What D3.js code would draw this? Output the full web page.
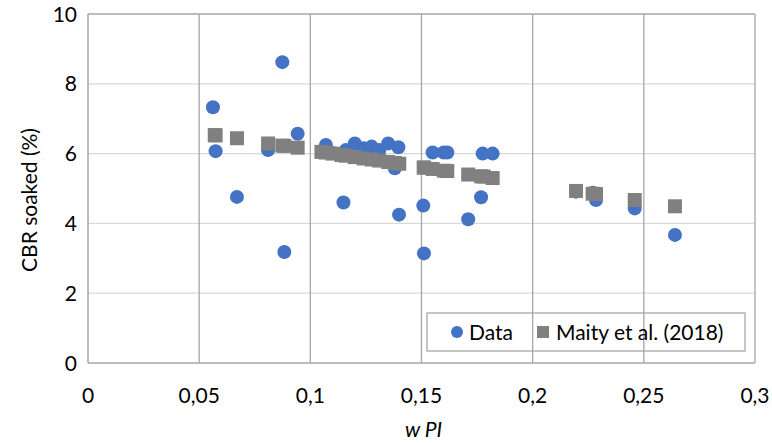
<!DOCTYPE html>
<html><head><meta charset="utf-8">
<script src="https://cdn.jsdelivr.net/npm/d3@7"></script>
<style>body{margin:0;background:#fff}svg{display:block;font-family:Lato,"Open Sans",sans-serif}</style>
</head><body><svg id="c" width="772" height="444"></svg>
<script>
const dataX = [0.0562,0.0574,0.067,0.081,0.0874,0.0883,0.0943,0.107,0.110,0.1149,0.116,0.120,0.124,0.1276,0.131,0.135,0.138,0.1396,0.1399,0.1508,0.1511,0.155,0.160,0.1616,0.171,0.1768,0.1775,0.182,0.2195,0.227,0.2285,0.2459,0.264];
const dataY = [7.33,6.07,4.76,6.10,8.62,3.18,6.57,6.25,6.02,4.60,6.10,6.29,6.15,6.20,6.10,6.29,5.58,6.18,4.25,4.51,3.14,6.03,6.03,6.03,4.12,4.75,6.00,6.00,4.91,4.88,4.67,4.43,3.67];
const maityX = [0.057,0.0574,0.067,0.081,0.0874,0.0883,0.0943,0.105,0.107,0.110,0.114,0.116,0.120,0.124,0.1276,0.131,0.135,0.138,0.140,0.151,0.1511,0.155,0.160,0.1616,0.171,0.1768,0.178,0.182,0.2195,0.227,0.2285,0.2459,0.264];
const maityY = [6.53,6.52,6.44,6.29,6.23,6.22,6.17,6.05,6.03,6.00,5.96,5.94,5.90,5.86,5.83,5.80,5.76,5.73,5.71,5.60,5.60,5.56,5.51,5.50,5.40,5.35,5.34,5.30,4.93,4.85,4.84,4.67,4.49];
const xTicks = [0,0.05,0.1,0.15,0.2,0.25,0.3];
const yTicks = [0,2,4,6,8,10];
const xLabel = "w PI";
const yLabel = "CBR soaked (%)";
const seriesNames = ["Data","Maity et al. (2018)"];

const svg = d3.select("#c");
const L=88, R=755, T=14, B=363;
const x = d3.scaleLinear().domain([0,0.3]).range([L,R]);
const y = d3.scaleLinear().domain([0,10]).range([B,T]);
const fmt = d => String(d).replace(".",",");
const FS = 21;

svg.append("g").selectAll("line").data(yTicks.filter(d=>d>0&&d<10)).join("line")
  .attr("x1",L).attr("x2",R).attr("y1",d=>y(d)).attr("y2",d=>y(d))
  .attr("stroke","#d9d9d9").attr("stroke-width",1.3);
svg.append("g").selectAll("line").data(xTicks.filter(d=>d>0)).join("line")
  .attr("x1",d=>x(d)).attr("x2",d=>x(d)).attr("y1",T).attr("y2",B)
  .attr("stroke","#a6a6a6").attr("stroke-width",1.3);
svg.append("line").attr("x1",L).attr("x2",R).attr("y1",T).attr("y2",T).attr("stroke","#a6a6a6").attr("stroke-width",1.3);
svg.append("line").attr("x1",L).attr("x2",L).attr("y1",T).attr("y2",B).attr("stroke","#a6a6a6").attr("stroke-width",1.5);
svg.append("line").attr("x1",L).attr("x2",R).attr("y1",B).attr("y2",B).attr("stroke","#a6a6a6").attr("stroke-width",1.5);

svg.append("g").selectAll("text").data(xTicks).join("text")
  .attr("x",d=>x(d)).attr("y",403).attr("text-anchor","middle")
  .attr("font-size",FS).attr("fill","#000").text(fmt);
svg.append("g").selectAll("text").data(yTicks).join("text")
  .attr("x",77).attr("y",d=>y(d)+7.5).attr("text-anchor","end")
  .attr("font-size",FS).attr("fill","#000").text(d=>d);

svg.append("text").attr("x",(L+R)/2+2).attr("y",437).attr("text-anchor","middle")
  .attr("font-size",FS).attr("font-style","italic").text(xLabel);
svg.append("text").attr("transform","translate(37,200) rotate(-90)").attr("text-anchor","middle")
  .attr("font-size",FS).text(yLabel);

const blue="#4472c4", gray="#808080";
svg.append("g").selectAll("circle").data(dataX.map((d,i)=>[d,dataY[i]])).join("circle")
  .attr("cx",d=>x(d[0])).attr("cy",d=>y(d[1])).attr("r",7).attr("fill",blue);
const s=14;
svg.append("g").selectAll("rect").data(maityX.map((d,i)=>[d,maityY[i]])).join("rect")
  .attr("x",d=>x(d[0])-s/2).attr("y",d=>y(d[1])-s/2).attr("width",s).attr("height",s).attr("fill",gray);

const lg = svg.append("g");
lg.append("rect").attr("x",427).attr("y",313).attr("width",318).attr("height",38)
  .attr("fill","none").attr("stroke","#a6a6a6").attr("stroke-width",1.3);
lg.append("circle").attr("cx",457).attr("cy",332).attr("r",6).attr("fill",blue);
lg.append("text").attr("x",469).attr("y",339.5).attr("font-size",FS).text(seriesNames[0]);
lg.append("rect").attr("x",537).attr("y",326).attr("width",12).attr("height",12).attr("fill",gray);
lg.append("text").attr("x",556).attr("y",339.5).attr("font-size",FS).text(seriesNames[1]);
</script></body></html>
